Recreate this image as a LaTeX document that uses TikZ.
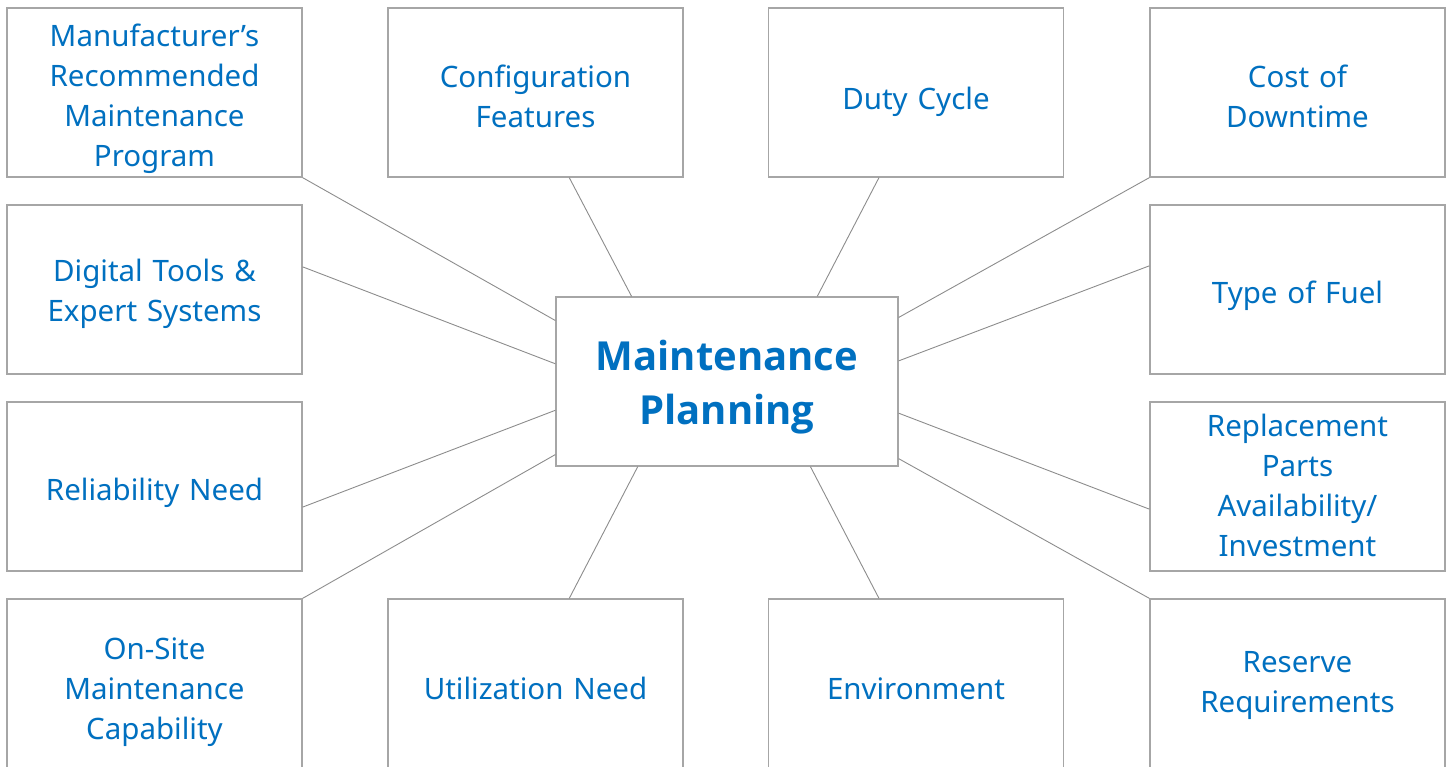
\documentclass[tikz,border=0pt]{standalone}
\usepackage{fontspec}
\setmainfont{Noto Sans}
\newfontfamily\hubfont{Open Sans}
\usetikzlibrary{calc}
\definecolor{txtblue}{HTML}{0070C0}
\definecolor{boxgray}{HTML}{A6A6A6}
\definecolor{linegray}{HTML}{8C8C8C}
\begin{document}
\begin{tikzpicture}[x=1pt,y=-1pt,
  box/.style={draw=boxgray,line width=1.3pt,fill=white,minimum width=295pt,minimum height=169pt,inner sep=0pt},
  hub/.style={draw=boxgray,line width=1.3pt,fill=white,minimum width=342pt,minimum height=169pt,inner sep=0pt},
  lbl/.style={text width=285pt,align=center,text=txtblue,inner sep=0pt,
    font=\fontsize{29.5}{40}\selectfont},
  hublbl/.style={text width=330pt,align=center,text=txtblue,inner sep=0pt,
    font=\hubfont\fontsize{40}{54}\selectfont\bfseries},
  conn/.style={draw=linegray,line width=0.9pt}]
\useasboundingbox (0,0) rectangle (1449,767);
% boxes
\node[hub] (c) at (727,381.5) {};
\node[box] (m) at (154.5,92.5) {};
\node[box] (cf) at (535.5,92.5) {};
\node[box] (dc) at (916,92.5) {};
\node[box] (cd) at (1297.5,92.5) {};
\node[box] (dt) at (154.5,289.5) {};
\node[box] (rn) at (154.5,486.5) {};
\node[box] (os) at (154.5,683.5) {};
\node[box] (tf) at (1297.5,289.5) {};
\node[box] (rp) at (1297.5,486.5) {};
\node[box] (rr) at (1297.5,683.5) {};
\node[box] (un) at (535.5,683.5) {};
\node[box] (en) at (916,683.5) {};
% texts
\node[hublbl] (ct) at ([yshift=-5.5pt]c.center) {Maintenance\\Planning};
\node[lbl] (mt) at ([yshift=-6pt]m.center) {Manufacturer’s\\Recommended\\Maintenance\\Program};
\node[lbl] (cft) at ([yshift=-4pt]cf.center) {Configuration\\Features};
\node[lbl] (dct) at ([yshift=-9pt]dc.center) {Duty Cycle};
\node[lbl] (cdt) at ([yshift=-4pt]cd.center) {Cost of\\Downtime};
\node[lbl] (dtt) at ([yshift=-4pt]dt.center) {Digital Tools \&\\Expert Systems};
\node[lbl] (rnt) at ([yshift=-6pt]rn.center) {Reliability Need};
\node[lbl] (ost) at ([yshift=-9pt]os.center) {On-Site\\Maintenance\\Capability};
\node[lbl] (tft) at ([yshift=-6pt]tf.center) {Type of Fuel};
\node[lbl] (rpt) at ([yshift=1pt]rp.center) {Replacement\\Parts\\Availability/\\Investment};
\node[lbl] (rrt) at ([yshift=-2pt]rr.center) {Reserve\\Requirements};
\node[lbl] (unt) at ([yshift=-5pt]un.center) {Utilization Need};
\node[lbl] (ent) at ([yshift=-5pt]en.center) {Environment};
% connectors
\draw[conn] (m.south east) -- ($(c.north west)!0.142!(c.south west)$);
\draw[conn] ($(cf.south west)!0.614!(cf.south east)$) -- ($(c.north west)!0.222!(c.north east)$);
\draw[conn] ($(dc.south west)!0.375!(dc.south east)$) -- ($(c.north west)!0.763!(c.north east)$);
\draw[conn] (cd.south west) -- ($(c.north east)!0.124!(c.south east)$);
\draw[conn] ($(dt.north east)!0.367!(dt.south east)$) -- ($(c.north west)!0.396!(c.south west)$);
\draw[conn] ($(tf.north west)!0.361!(tf.south west)$) -- ($(c.north east)!0.379!(c.south east)$);
\draw[conn] ($(rn.north east)!0.621!(rn.south east)$) -- ($(c.north west)!0.669!(c.south west)$);
\draw[conn] ($(rp.north west)!0.633!(rp.south west)$) -- ($(c.north east)!0.686!(c.south east)$);
\draw[conn] (os.north east) -- ($(c.north west)!0.929!(c.south west)$);
\draw[conn] ($(un.north west)!0.614!(un.north east)$) -- ($(c.south west)!0.240!(c.south east)$);
\draw[conn] ($(en.north west)!0.375!(en.north east)$) -- ($(c.south west)!0.743!(c.south east)$);
\draw[conn] (rr.north west) -- ($(c.north east)!0.953!(c.south east)$);
\end{tikzpicture}
\end{document}
